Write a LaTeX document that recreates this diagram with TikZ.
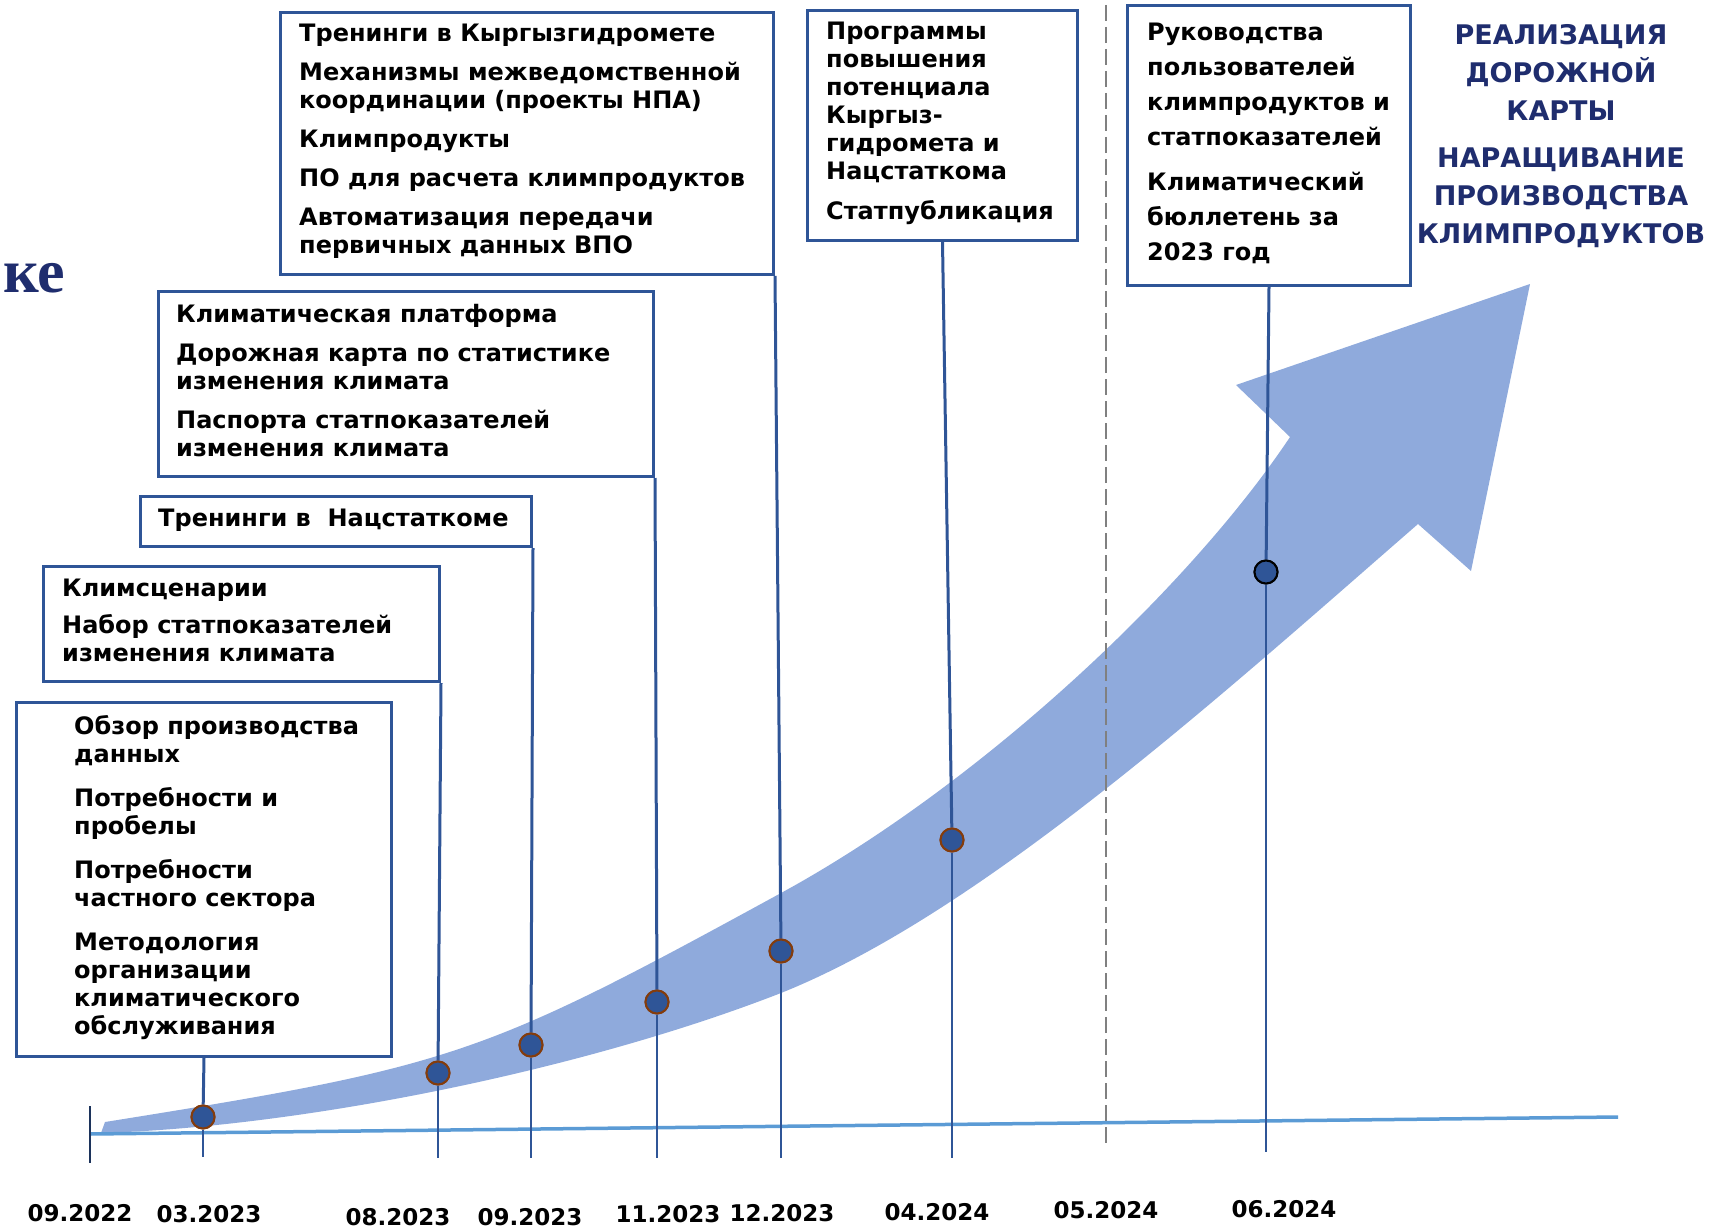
\documentclass[tikz,border=0pt]{standalone}
\usepackage{fontspec}
\setmainfont{DejaVu Sans}
\newfontfamily\serifhead{Liberation Serif}
\usetikzlibrary{positioning}

\definecolor{frameblue}{RGB}{47,85,151}
\definecolor{bandblue}{RGB}{143,170,220}
\definecolor{axisblue}{RGB}{91,155,213}
\definecolor{headnavy}{RGB}{31,45,110}
\definecolor{rimbrown}{RGB}{132,60,12}
\definecolor{dashgray}{RGB}{128,128,128}

\begin{document}
\begin{tikzpicture}[x=1pt, y=-1pt,
  card/.style={draw=frameblue, fill=white, line width=3pt, anchor=north west, inner sep=0pt},
  items/.style={anchor=north west, align=left, inner sep=0pt, font=\bfseries\fontsize{24}{28}\selectfont},
  stem/.style={frameblue, line width=3pt},
  drop/.style={frameblue, line width=1.5pt},
  bullet/.style={circle, fill=frameblue, draw=rimbrown, line width=2pt, minimum size=23pt, inner sep=0pt},
  datelabel/.style={inner sep=0pt, font=\bfseries\fontsize{23}{26}\selectfont},
  headline/.style={text=headnavy, align=center, inner sep=0pt, font=\bfseries\fontsize{27}{38}\selectfont}]

  \useasboundingbox (0,0) rectangle (1729,1228);

  % growing band
  \fill[bandblue] (101,1133) .. controls (301,1127) and (581,1071) .. (781,993)
    .. controls (981,913) and (1218,698) .. (1418,524)
    -- (1471,571) -- (1530,284) -- (1236,385) -- (1290,437)
    .. controls (1190,587) and (981,784) .. (781,893)
    .. controls (481,1057) and (455,1066) .. (105,1122)
    -- cycle;

  % time axis
  \coordinate (axisstart) at (90,1134);
  \coordinate (axisend) at (1618,1117);
  \draw[axisblue, line width=3.5pt] (axisstart) -- (axisend);
  \draw[frameblue!60!black, line width=1.5pt] (90,1106) -- (90,1163);
  \draw[dashgray, line width=1.5pt, dash pattern=on 16pt off 6pt] (1106,5) -- (1106,1145);

  \node[bullet] (p1) at (203,1117) {};
  \node[bullet] (p2) at (438,1073) {};
  \node[bullet] (p3) at (531,1045) {};
  \node[bullet] (p4) at (657,1002) {};
  \node[bullet] (p5) at (781,951) {};
  \node[bullet] (p6) at (952,840) {};
  \node[bullet, draw=black] (p7) at (1266,572) {};

  \coordinate (e1) at (203,1157);
  \coordinate (e2) at (438,1158);
  \coordinate (e3) at (531,1158);
  \coordinate (e4) at (657,1158);
  \coordinate (e5) at (781,1158);
  \coordinate (e6) at (952,1158);
  \coordinate (e7) at (1266,1152);
  \foreach \i in {1,...,7}
    \draw[drop] (p\i) -- (e\i);

  % boxes
  \node[card, minimum width=375pt, minimum height=354pt] (review) at (15,701) {};
  \node[card, minimum width=396pt, minimum height=115pt] (scen) at (42,565) {};
  \node[card, minimum width=391pt, minimum height=50pt] (nsct) at (139,495) {};
  \node[card, minimum width=495pt, minimum height=185pt] (plat) at (157,290) {};
  \node[card, minimum width=493pt, minimum height=262pt] (kg) at (279,11) {};
  \node[card, minimum width=270pt, minimum height=230pt] (prog) at (806,9) {};
  \node[card, minimum width=283pt, minimum height=280pt] (guide) at (1126,4) {};

  \draw[stem] (review.south) -- (p1);
  \draw[stem] (scen.south east) -- (p2);
  \draw[stem] (nsct.south east) -- (p3);
  \draw[stem] (plat.south east) -- (p4);
  \draw[stem] (kg.south east) -- (p5);
  \draw[stem] (prog.south) -- (p6);
  \draw[stem] (guide.south) -- (p7);

  \foreach \i in {1,...,6}
    \node[bullet] at (p\i) {};
  \node[bullet, draw=black] at (p7) {};

  % texts
  \node[items, below right=14pt and 59pt of review.north west] (reviewtext)
    {Обзор производства\\данных\\[16pt]Потребности и\\пробелы\\[16pt]Потребности\\частного сектора\\[16pt]Методология\\организации\\климатического\\обслуживания};
  \node[items, below right=14pt and 20pt of scen.north west] (scentext)
    {Климсценарии\\[9pt]Набор статпоказателей\\изменения климата};
  \node[items, below right=14pt and 19pt of nsct.north west] (nscttext)
    {Тренинги в\ \ Нацстаткоме};
  \node[items, below right=14pt and 19pt of plat.north west] (plattext)
    {Климатическая платформа\\[11pt]Дорожная карта по статистике\\изменения климата\\[11pt]Паспорта статпоказателей\\изменения климата};
  \node[items, below right=13pt and 20pt of kg.north west] (kgtext)
    {Тренинги в Кыргызгидромете\\[11pt]Механизмы межведомственной\\координации (проекты НПА)\\[11pt]Климпродукты\\[11pt]ПО для расчета климпродуктов\\[11pt]Автоматизация передачи\\первичных данных ВПО};
  \node[items, below right=13pt and 20pt of prog.north west] (progtext)
    {Программы\\повышения\\потенциала\\Кыргыз-\\гидромета и\\Нацстаткома\\[12pt]Статпубликация};
  \node[items, font=\bfseries\fontsize{24}{35}\selectfont, below right=19pt and 21pt of guide.north west] (guidetext)
    {Руководства\\пользователей\\климпродуктов и\\статпоказателей\\[10pt]Климатический\\бюллетень за\\2023 год};

  \node[headline] (roadmap) at (1561,72) {РЕАЛИЗАЦИЯ\\ДОРОЖНОЙ\\КАРТЫ};
  \node[headline] (growth) at (1561,198) {НАРАЩИВАНИЕ\\ПРОИЗВОДСТВА\\КЛИМПРОДУКТОВ};

  \node[anchor=west, inner sep=0pt, text=headnavy, font=\serifhead\bfseries\fontsize{62}{62}\selectfont] (cutword) at (3,278) {ке};

  % dates
  \node[datelabel] (d1) at (80,1213) {09.2022};
  \node[datelabel] (d2) at (209,1214) {03.2023};
  \node[datelabel] (d3) at (398,1217) {08.2023};
  \node[datelabel] (d4) at (530,1217) {09.2023};
  \node[datelabel] (d5) at (668,1214) {11.2023};
  \node[datelabel] (d6) at (782,1213) {12.2023};
  \node[datelabel] (d7) at (937,1212) {04.2024};
  \node[datelabel] (d8) at (1106,1210) {05.2024};
  \node[datelabel] (d9) at (1284,1209) {06.2024};

\end{tikzpicture}
\end{document}
